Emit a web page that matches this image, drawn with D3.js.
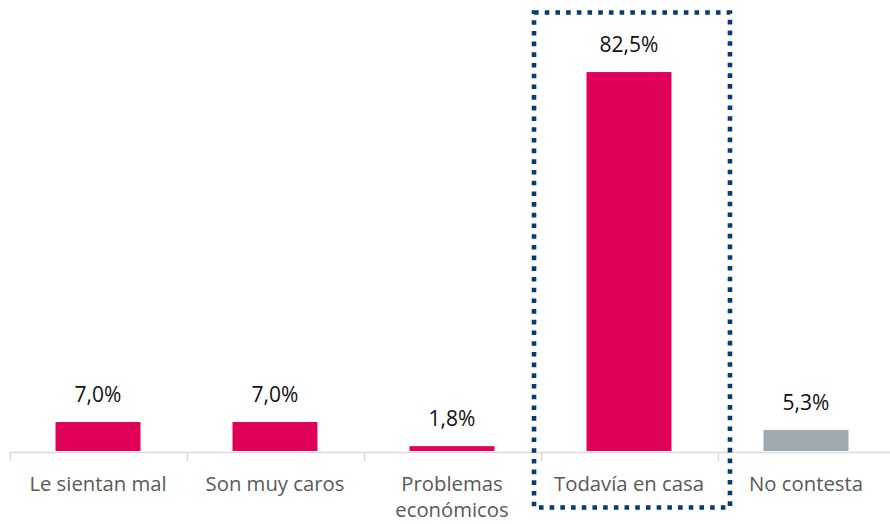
<!DOCTYPE html>
<html><head><meta charset="utf-8">
<script src="https://cdn.jsdelivr.net/npm/d3@7/dist/d3.min.js"></script>
<style>
html,body{margin:0;padding:0;background:#fff;}
svg{display:block;font-family:"Open Sans", sans-serif;}
</style></head>
<body><svg id="c" width="890" height="524"></svg>
<script>
const categories = [["Le sientan mal"], ["Son muy caros"], ["Problemas", "económicos"], ["Todavía en casa"], ["No contesta"]];
const values = [7.0, 7.0, 1.8, 82.5, 5.3];
const valueLabels = ["7,0%", "7,0%", "1,8%", "82,5%", "5,3%"];
const barColors = ["#e0005a", "#e0005a", "#e0005a", "#e0005a", "#9eaab0"];
const highlighted = "Todavía en casa";

const svg = d3.select("#c");
const keys = categories.map(c => c.join(" "));
const x = d3.scaleBand().domain(keys).range([9.5, 894.5]).paddingInner(0.52).paddingOuter(0.26);
const y = d3.scaleLinear().domain([0, 90]).range([454.5, 37.3]);
const axisY = 452.5;

// bars
svg.append("g").selectAll("rect").data(values).join("rect")
  .attr("x", (d, i) => x(keys[i]))
  .attr("width", x.bandwidth())
  .attr("y", d => y(d))
  .attr("height", d => Math.max(0, axisY - 1.5 - y(d)))
  .attr("fill", (d, i) => barColors[i]);

// value labels
svg.append("g").selectAll("text").data(values).join("text")
  .attr("x", (d, i) => x(keys[i]) + x.bandwidth() / 2)
  .attr("y", d => y(d) - 20)
  .attr("text-anchor", "middle")
  .attr("font-size", 21)
  .attr("fill", "#111")
  .text((d, i) => valueLabels[i]);

// axis
const step = x.step();
const x0 = x.range()[0];
const ax = svg.append("g").attr("stroke", "#d9d9d9").attr("stroke-width", 1.3);
ax.append("line").attr("x1", x0).attr("x2", 890).attr("y1", axisY).attr("y2", axisY);
ax.selectAll("line.t").data(d3.range(keys.length + 1)).join("line").attr("class", "t")
  .attr("x1", i => Math.round(x0 + i * step) + 0.5).attr("x2", i => Math.round(x0 + i * step) + 0.5)
  .attr("y1", axisY).attr("y2", axisY + 8.5);

// category labels
const cl = svg.append("g").selectAll("text").data(categories).join("text")
  .attr("x", (d, i) => x(keys[i]) + x.bandwidth() / 2)
  .attr("y", 491)
  .attr("text-anchor", "middle")
  .attr("font-size", 20.3)
  .attr("fill", "#595959");
cl.selectAll("tspan").data(d => d).join("tspan")
  .attr("x", function() { return d3.select(this.parentNode).attr("x"); })
  .attr("dy", (d, j) => j === 0 ? 0 : 25.5)
  .text(d => d);

// highlight box
const hx = x(highlighted);
svg.append("rect")
  .attr("x", hx - 52.5).attr("y", 12.5)
  .attr("width", x.bandwidth() + 111).attr("height", 495)
  .attr("fill", "none").attr("stroke", "#0b3a6e").attr("stroke-width", 4.6)
  .attr("stroke-dasharray", "4.6,6.1");
</script></body></html>
